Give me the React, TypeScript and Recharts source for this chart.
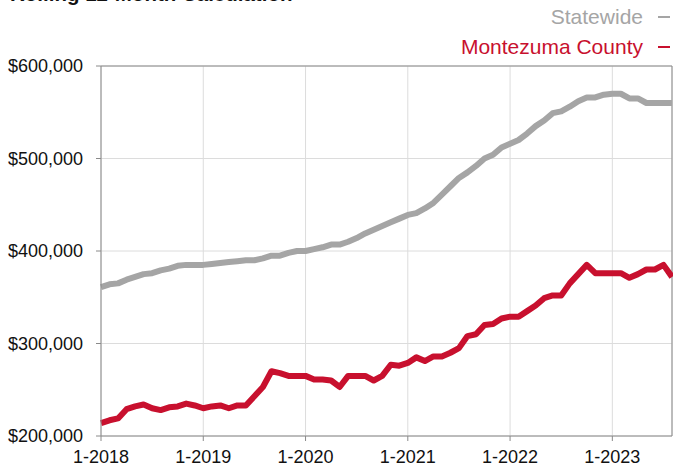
import React from "react";
import {
  LineChart,
  Line,
  XAxis,
  YAxis,
  CartesianGrid,
  ReferenceLine,
} from "recharts";

// Monthly points, 1-2018 through 8-2023
const years = [2018, 2019, 2020, 2021, 2022, 2023];
const monthsInLastYear = 8;

const months: string[] = [];
years.forEach((yr) => {
  const last = yr === 2023 ? monthsInLastYear : 12;
  for (let m = 1; m <= last; m++) months.push(`${m}-${yr}`);
});

const xTicks = ["1-2018", "1-2019", "1-2020", "1-2021", "1-2022", "1-2023"];
const yTicks = [200000, 300000, 400000, 500000, 600000];

// values in $ thousands
const statewide = [
  361, 364, 365, 369, 372, 375, 376, 379, 381, 384, 385, 385,
  385, 386, 387, 388, 389, 390, 390, 392, 395, 395, 398, 400,
  400, 402, 404, 407, 407, 410, 414, 419, 423, 427, 431, 435,
  439, 441, 446, 452, 461, 470, 479, 485, 492, 500, 504, 512,
  516, 520, 527, 535, 541, 549, 551, 556, 562, 566, 566, 569,
  570, 570, 565, 565, 560, 560, 560, 560,
];

const montezuma = [
  214, 217, 219, 229, 232, 234, 230, 228, 231, 232, 235, 233,
  230, 232, 233, 230, 233, 233, 243, 253, 270, 268, 265, 265,
  265, 261, 261, 260, 253, 265, 265, 265, 260, 265, 277, 276,
  279, 285, 281, 286, 286, 290, 295, 308, 310, 320, 321, 327,
  329, 329, 335, 341, 349, 352, 352, 365, 375, 385, 376, 376,
  376, 376, 371, 375, 380, 380, 385, 372,
];

const data = months.map((month, i) => ({
  month,
  statewide: statewide[i] * 1000,
  montezuma: montezuma[i] * 1000,
}));

const GRAY = "#a5a5a5";
const RED = "#c8102e";
const AXIS = "#8a8a8a";
const FONT = '"Liberation Sans", Arial, Helvetica, sans-serif';

const legendItems = [
  { label: "Statewide", color: GRAY, top: 4 },
  { label: "Montezuma County", color: RED, top: 34 },
];

export default function App() {
  return (
    <div
      style={{
        position: "absolute",
        left: 0,
        top: 0,
        width: 673,
        height: 466,
        background: "#fff",
        fontFamily: FONT,
        overflow: "hidden",
      }}
    >
      {/* title, mostly cut off at the top edge like in the source */}
      <div
        style={{
          position: "absolute",
          left: 10,
          top: -18,
          fontSize: 20.5,
          fontWeight: 700,
          color: "#111",
          whiteSpace: "nowrap",
          lineHeight: "24px",
        }}
      >
        Rolling 12-Month Calculation
      </div>

      {legendItems.map((it) => (
        <div
          key={it.label}
          style={{
            position: "absolute",
            right: 3,
            top: it.top,
            display: "flex",
            alignItems: "center",
            color: it.color,
            fontSize: 21,
            lineHeight: "26px",
            whiteSpace: "nowrap",
          }}
        >
          <span>{it.label}</span>
          <span
            style={{
              display: "inline-block",
              width: 12,
              height: 2,
              background: it.color,
              marginLeft: 15,
            }}
          />
        </div>
      ))}

      <div style={{ position: "absolute", left: 0, top: 0 }}>
        <LineChart
          width={673}
          height={466}
          data={data}
          margin={{ top: 66, right: 1, bottom: 0, left: 0 }}
        >
          <CartesianGrid stroke="#dcdcdc" strokeWidth={1} />
          <XAxis
            dataKey="month"
            ticks={xTicks}
            interval={0}
            height={30}
            tickSize={5}
            tickMargin={9}
            stroke={AXIS}
            tick={{ fill: "#111", fontSize: 18, fontFamily: FONT }}
          />
          <YAxis
            domain={[200000, 600000]}
            ticks={yTicks}
            width={101}
            tickSize={5}
            tickMargin={13}
            stroke={AXIS}
            tick={{ fill: "#111", fontSize: 18, fontFamily: FONT }}
            tickFormatter={(v: number) => "$" + v.toLocaleString("en-US")}
          />
          <ReferenceLine y={600000} stroke={AXIS} />
          <ReferenceLine x={months[months.length - 1]} stroke={AXIS} />
          <Line
            type="linear"
            dataKey="statewide"
            stroke={GRAY}
            strokeWidth={6}
            dot={false}
            strokeLinejoin="round"
            isAnimationActive={false}
          />
          <Line
            type="linear"
            dataKey="montezuma"
            stroke={RED}
            strokeWidth={6}
            dot={false}
            strokeLinejoin="round"
            isAnimationActive={false}
          />
        </LineChart>
      </div>
    </div>
  );
}
